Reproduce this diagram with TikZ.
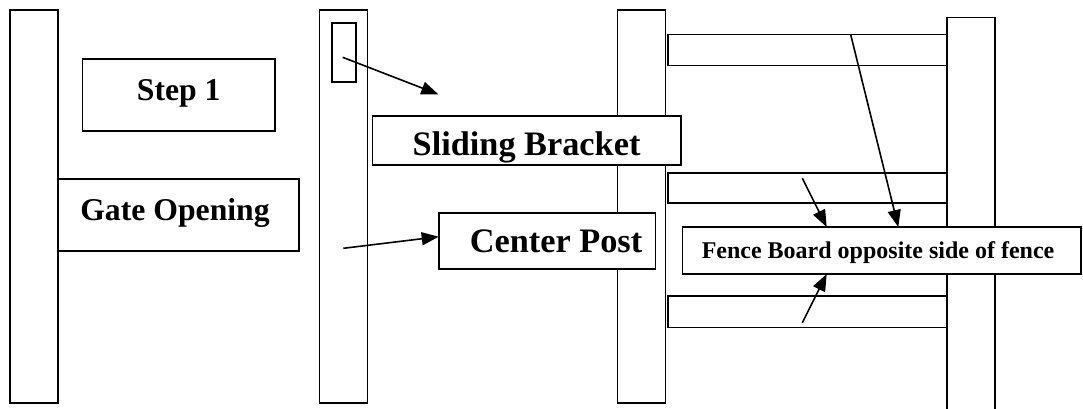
\documentclass[tikz,border=0pt]{standalone}
\usepackage{fontspec}
\setmainfont{Liberation Serif}
\usetikzlibrary{arrows.meta}
\begin{document}
\begin{tikzpicture}[x=1pt,y=-1pt,line width=1.6pt,
  part/.style={draw,fill=white,inner sep=0pt,outer sep=0pt,anchor=north west},
  labelbox/.style={part,font=\bfseries\fontsize{31.7}{36}\selectfont,text depth=0pt},
  biglabel/.style={part,font=\bfseries\fontsize{34.3}{40}\selectfont,text depth=0pt},
  smalllabel/.style={part,font=\bfseries\fontsize{24}{28}\selectfont,text depth=0pt},
  pointer/.style={-{Triangle[length=17pt,width=13pt]},line width=1.6pt}]
\useasboundingbox (0,0) rectangle (1083,408);
\clip (0,0) rectangle (1083,408);
% posts
\node[part,minimum width=48pt,minimum height=393pt] (post1) at (10,10) {};
\node[part,minimum width=48pt,minimum height=393pt] (post2) at (319.5,10) {};
\node[part,minimum width=48pt,minimum height=393pt] (post3) at (617.3,10) {};
\node[part,minimum width=48.3pt,minimum height=400pt] (post4) at (946.7,17.3) {};
% small bracket on post 2
\node[part,minimum width=24.3pt,minimum height=59pt] (bracket) at (331.7,22.7) {};
% rails
\node[part,minimum width=279pt,minimum height=31pt] (rail1) at (667.7,34.3) {};
\node[part,minimum width=279pt,minimum height=30pt] (rail2) at (667.7,172.7) {};
\node[part,minimum width=279pt,minimum height=31.3pt] (rail3) at (667.7,296) {};
% label boxes
\node[labelbox,minimum width=192.5pt,minimum height=72pt,text height=10pt] (step) at (82.5,59) {Step 1};
\node[labelbox,minimum width=241pt,minimum height=72pt,text height=10pt] (gate) at (58,179) {Gate Opening\hspace*{7pt}};
\node[biglabel,minimum width=308.5pt,minimum height=49pt,text height=29pt] (slide) at (372.3,116) {Sliding Bracket};
\node[biglabel,minimum width=216.6pt,minimum height=56pt,text height=22pt] (center) at (438.7,213) {\hspace*{18pt}Center Post};
\node[smalllabel,minimum width=398.5pt,minimum height=47pt,text height=15pt] (board) at (682.3,227) {Fence Board opposite side of fence\hspace*{7pt}};
% arrow end points
\coordinate (a1s) at (342.7,57.3);
\coordinate (a1e) at (438.3,94.3);
\coordinate (a2s) at (343.3,248.3);
\coordinate (a3s) at (850.7,34.7);
\coordinate (a4s) at (802.3,178.3);
\coordinate (a5s) at (802.3,322.7);
\draw[pointer] (a1s) -- (a1e);
\draw[pointer] (a2s) -- (center.west |- 0,236.7);
\draw[pointer] (a3s) -- (board.north -| 898.3,0);
\draw[pointer] (a4s) -- (board.north -| 826.7,0);
\draw[pointer] (a5s) -- (board.south -| 826.7,0);
\end{tikzpicture}
\end{document}
